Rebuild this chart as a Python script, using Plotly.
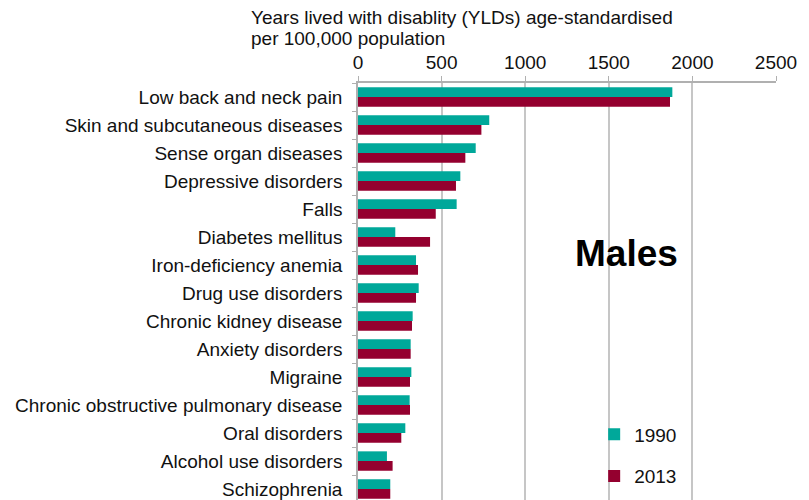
import plotly.graph_objects as go

# Causes of disability, males, age-standardised YLDs per 100,000
causes = [
    "Low back and neck pain",
    "Skin and subcutaneous diseases",
    "Sense organ diseases",
    "Depressive disorders",
    "Falls",
    "Diabetes mellitus",
    "Iron-deficiency anemia",
    "Drug use disorders",
    "Chronic kidney disease",
    "Anxiety disorders",
    "Migraine",
    "Chronic obstructive pulmonary disease",
    "Oral disorders",
    "Alcohol use disorders",
    "Schizophrenia",
]
ylds_1990 = [1880, 785, 704, 612, 590, 223, 347, 363, 327, 315, 319, 309, 283, 173, 193]
ylds_2013 = [1866, 738, 642, 586, 465, 431, 359, 347, 323, 315, 311, 311, 259, 207, 193]
x_ticks = [0, 500, 1000, 1500, 2000, 2500]
title_lines = ["Years lived with disablity (YLDs) age-standardised", "per 100,000 population"]

TEAL = "#00A89A"
CRIMSON = "#94002F"
FONT = "Liberation Sans, Arial, sans-serif"

W, H = 809, 500
L, R, T, B = 358, 33, 83, 0
band_px = 28
plot_h = H - T - B
plot_w = W - L - R
n_visible = plot_h / band_px

fig = go.Figure()
fig.add_trace(go.Bar(
    y=causes, x=ylds_1990, orientation="h", name="1990",
    marker=dict(color=TEAL, line=dict(width=0)),
    legendgroup="a",
))
fig.add_trace(go.Bar(
    y=causes, x=ylds_2013, orientation="h", name="2013",
    marker=dict(color=CRIMSON, line=dict(width=0)),
    legendgroup="b",
))

fig.update_layout(
    width=W, height=H,
    margin=dict(l=L, r=R, t=T, b=B, pad=0),
    paper_bgcolor="white", plot_bgcolor="white",
    barmode="group", bargap=0.31, bargroupgap=0,
    font=dict(family=FONT, size=19, color="#111111"),
    showlegend=True,
    legend=dict(
        x=0.565, y=0.203, xanchor="left", yanchor="top",
        traceorder="grouped", tracegroupgap=14,
        font=dict(size=19, color="#111111"),
        itemwidth=30, bgcolor="rgba(0,0,0,0)",
    ),
    xaxis=dict(
        side="top", range=[0, 2500], tickvals=x_ticks,
        showgrid=True, gridcolor="#c6c6c6", gridwidth=1.5,
        showline=True, linecolor="#b0b0b0", linewidth=1.5,
        ticks="outside", ticklen=5, tickcolor="#b0b0b0",
        tickfont=dict(size=19, color="#111111"),
        zeroline=False, fixedrange=True,
    ),
    yaxis=dict(
        type="category", categoryorder="array", categoryarray=causes,
        range=[-0.5 + n_visible, -0.5],
        showline=True, linecolor="#b0b0b0", linewidth=1.5,
        ticks="outside", ticklen=4, tickcolor="#b0b0b0",
        tickson="boundaries", ticklabelstandoff=10,
        tickfont=dict(size=19, color="#111111"),
        showgrid=False, zeroline=False, fixedrange=True,
    ),
)

# Axis title, two left-aligned lines above the top tick labels
for line, y_px in zip(title_lines, [17, 38]):
    fig.add_annotation(
        text=line,
        xref="paper", yref="paper",
        x=(249 - L) / plot_w, y=(H - y_px) / plot_h,
        xanchor="left", yanchor="middle", align="left", showarrow=False,
        font=dict(size=19, color="#111111"),
    )

fig.add_annotation(
    text="<b>Males</b>",
    xref="paper", yref="paper",
    x=(626 - L) / plot_w, y=(H - 253) / plot_h,
    xanchor="center", yanchor="middle", showarrow=False,
    font=dict(size=37, color="#000000"),
)

fig.write_html("out.html")
